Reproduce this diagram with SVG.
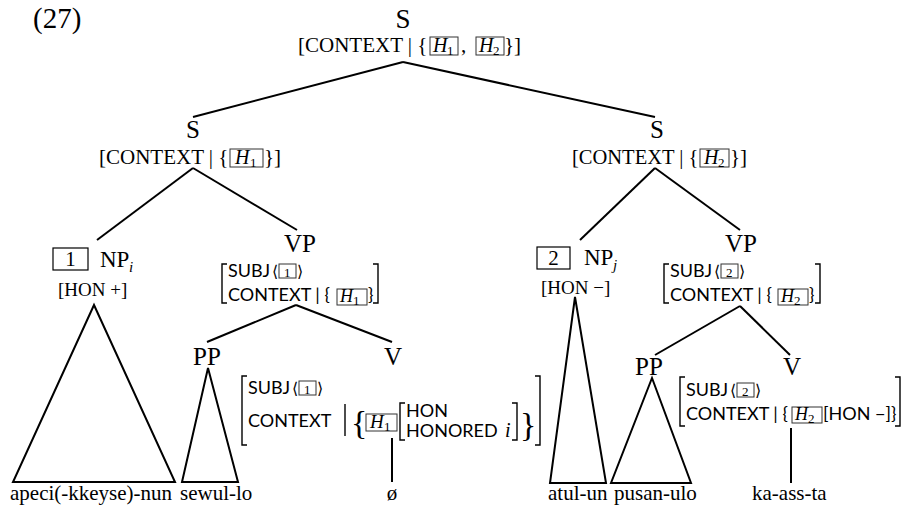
<svg xmlns="http://www.w3.org/2000/svg" width="905" height="510" viewBox="0 0 905 510">
<style>
.lbl{font-family:"Liberation Serif",serif;font-size:25px;fill:#000}
.ftr{font-family:"Liberation Serif",serif;font-size:21px;fill:#000}
.avm{font-family:Lato,"DejaVu Sans",sans-serif;font-size:18px;fill:#000}
.ang{font-family:"DejaVu Sans",sans-serif;font-size:16px;fill:#000}
.it{font-family:"Liberation Serif",serif;font-style:italic;font-size:20px;fill:#000}
.sub{font-family:"Liberation Serif",serif;font-size:13px;fill:#000}
.wd{font-family:"Liberation Serif",serif;font-size:21px;fill:#000}
.tall{font-family:"Liberation Serif",serif;font-size:34px;fill:#000}
.ln{stroke:#000;stroke-width:2;fill:none}
.br{stroke:#000;stroke-width:1.4;fill:none}
.bx{stroke:#333;stroke-width:1;fill:none}
.nb{stroke:#000;stroke-width:1.2;fill:none}
</style>
<rect width="905" height="510" fill="#fff"/>
<text class="lbl" x="33" y="28" style="font-size:29px">(27)</text>

<g id="connectors">
<line class="ln" x1="403" y1="62" x2="193" y2="117"/>
<line class="ln" x1="403" y1="62" x2="655" y2="117"/>
<line class="ln" x1="193" y1="168" x2="97" y2="240"/>
<line class="ln" x1="193" y1="168" x2="297" y2="230"/>
<line class="ln" x1="296" y1="305" x2="207" y2="342"/>
<line class="ln" x1="296" y1="305" x2="392" y2="342"/>
<line class="ln" x1="655" y1="168" x2="580" y2="240"/>
<line class="ln" x1="655" y1="168" x2="740" y2="230"/>
<line class="ln" x1="740" y1="306" x2="655" y2="355"/>
<line class="ln" x1="740" y1="306" x2="790" y2="355"/>
<polygon class="ln" points="94,305 13,482 175,482"/>
<polygon class="ln" points="208,368 182,482 238,482"/>
<polygon class="ln" points="575,297 550,483 606,483"/>
<polygon class="ln" points="652,378 611,483 691,483"/>
<line class="ln" x1="392" y1="438" x2="392" y2="482"/>
<line class="ln" x1="791" y1="428" x2="791" y2="483"/>
</g>

<g id="S0">
<text class="lbl" x="403" y="28" text-anchor="middle" style="font-size:27px">S</text>
<text class="ftr" x="298" y="52">[CONTEXT | {</text>
<rect class="bx" x="430" y="37" width="28" height="18"/>
<text class="it" x="433" y="52">H</text><text class="sub" x="447" y="55">1</text>
<text class="ftr" x="461" y="52">,</text>
<rect class="bx" x="476" y="37" width="28" height="18"/>
<text class="it" x="479" y="52">H</text><text class="sub" x="493" y="55">2</text>
<text class="ftr" x="504" y="52">}]</text>
</g>

<g id="S1">
<text class="lbl" x="193" y="138" text-anchor="middle">S</text>
<text class="ftr" x="99" y="164">[CONTEXT | {</text>
<rect class="bx" x="230" y="149" width="33" height="18"/>
<text class="it" x="235" y="164">H</text><text class="sub" x="250" y="167">1</text>
<text class="ftr" x="264" y="164">}]</text>
</g>

<g id="S2">
<text class="lbl" x="657" y="138" text-anchor="middle">S</text>
<text class="ftr" x="572" y="164" style="font-size:20.5px">[CONTEXT | {</text>
<rect class="bx" x="700" y="149" width="29" height="18"/>
<text class="it" x="704" y="164">H</text><text class="sub" x="718" y="167">2</text>
<text class="ftr" x="730" y="164">}]</text>
</g>

<g id="NP1">
<rect class="nb" x="53" y="248" width="35" height="22"/>
<text class="ftr" x="70.5" y="266" text-anchor="middle">1</text>
<text class="lbl" x="100" y="267" style="font-size:23px">NP</text>
<text class="it" x="129" y="272" style="font-size:15px">i</text>
<text class="ftr" x="58" y="296" style="font-size:19px">[HON +]</text>
</g>

<g id="VP1">
<text class="lbl" x="300" y="252" text-anchor="middle">VP</text>
<path class="br" d="M227 264 H222 V303 H227"/>
<text class="avm" x="228" y="277">SUBJ</text>
<text class="ang" x="272" y="277">⟨</text>
<rect class="bx" x="279" y="264" width="17" height="14"/>
<text class="sub" x="284" y="277">1</text>
<text class="ang" x="297" y="277">⟩</text>
<text class="avm" x="228" y="301">CONTEXT | {</text>
<rect class="bx" x="337" y="289" width="30" height="16"/>
<text class="it" x="340" y="302" style="font-size:18px">H</text><text class="sub" x="353" y="305">1</text>
<text class="avm" x="368" y="301">}</text>
<path class="br" d="M373 264 H378 V303 H373"/>
</g>

<g id="PP1">
<text class="lbl" x="207" y="365" text-anchor="middle">PP</text>
</g>

<g id="V1">
<text class="lbl" x="393" y="365" text-anchor="middle">V</text>
<path class="br" d="M247 376 H242 V445 H247"/>
<text class="avm" x="248" y="394">SUBJ</text>
<text class="ang" x="292" y="394">⟨</text>
<rect class="bx" x="299" y="381" width="17" height="14"/>
<text class="sub" x="304" y="394">1</text>
<text class="ang" x="317" y="394">⟩</text>
<text class="avm" x="248" y="427">CONTEXT</text>
<line class="br" x1="345" y1="404" x2="345" y2="436"/>
<text class="tall" x="351" y="434">{</text>
<rect class="bx" x="366" y="414" width="31" height="17"/>
<text class="it" x="370" y="428" style="font-size:19px">H</text><text class="sub" x="384" y="431">1</text>
<path class="br" d="M405 403 H400 V440 H405"/>
<text class="avm" x="406" y="417">HON</text>
<text class="avm" x="406" y="437">HONORED</text>
<text class="it" x="505" y="437">i</text>
<path class="br" d="M512 403 H517 V440 H512"/>
<text class="tall" x="520" y="436">}</text>
<path class="br" d="M535 376 H540 V445 H535"/>
</g>

<g id="NP2">
<rect class="nb" x="537" y="247" width="33" height="22"/>
<text class="ftr" x="553.5" y="265" text-anchor="middle">2</text>
<text class="lbl" x="584" y="265" style="font-size:23px">NP</text>
<text class="it" x="613" y="270" style="font-size:15px">j</text>
<text class="ftr" x="541" y="294" style="font-size:19px">[HON −]</text>
</g>

<g id="VP2">
<text class="lbl" x="741" y="252" text-anchor="middle">VP</text>
<path class="br" d="M669 264 H664 V303 H669"/>
<text class="avm" x="670" y="277">SUBJ</text>
<text class="ang" x="714" y="277">⟨</text>
<rect class="bx" x="721" y="264" width="17" height="14"/>
<text class="sub" x="726" y="277">2</text>
<text class="ang" x="739" y="277">⟩</text>
<text class="avm" x="670" y="301">CONTEXT | {</text>
<rect class="bx" x="778" y="289" width="30" height="16"/>
<text class="it" x="781" y="302" style="font-size:18px">H</text><text class="sub" x="794" y="305">2</text>
<text class="avm" x="809" y="301">}</text>
<path class="br" d="M815 264 H820 V303 H815"/>
</g>

<g id="PP2">
<text class="lbl" x="649" y="375" text-anchor="middle">PP</text>
</g>

<g id="V2">
<text class="lbl" x="792" y="375" text-anchor="middle">V</text>
<path class="br" d="M685 377 H680 V426 H685"/>
<text class="avm" x="686" y="396">SUBJ</text>
<text class="ang" x="730" y="396">⟨</text>
<rect class="bx" x="737" y="383" width="17" height="14"/>
<text class="sub" x="742" y="396">2</text>
<text class="ang" x="755" y="396">⟩</text>
<text class="avm" x="686" y="420">CONTEXT | {</text>
<rect class="bx" x="792" y="407" width="30" height="16"/>
<text class="it" x="795" y="420" style="font-size:18px">H</text><text class="sub" x="808" y="423">2</text>
<text class="avm" x="823" y="420">[HON −]}</text>
<path class="br" d="M895 377 H900 V426 H895"/>
</g>

<g id="words">
<text class="wd" x="10" y="500">apeci(-kkeyse)-nun</text>
<text class="wd" x="180" y="500">sewul-lo</text>
<text class="wd" x="392" y="500" text-anchor="middle">ø</text>
<text class="wd" x="548" y="500">atul-un</text>
<text class="wd" x="614" y="500">pusan-ulo</text>
<text class="wd" x="752" y="500">ka-ass-ta</text>
</g>
</svg>
